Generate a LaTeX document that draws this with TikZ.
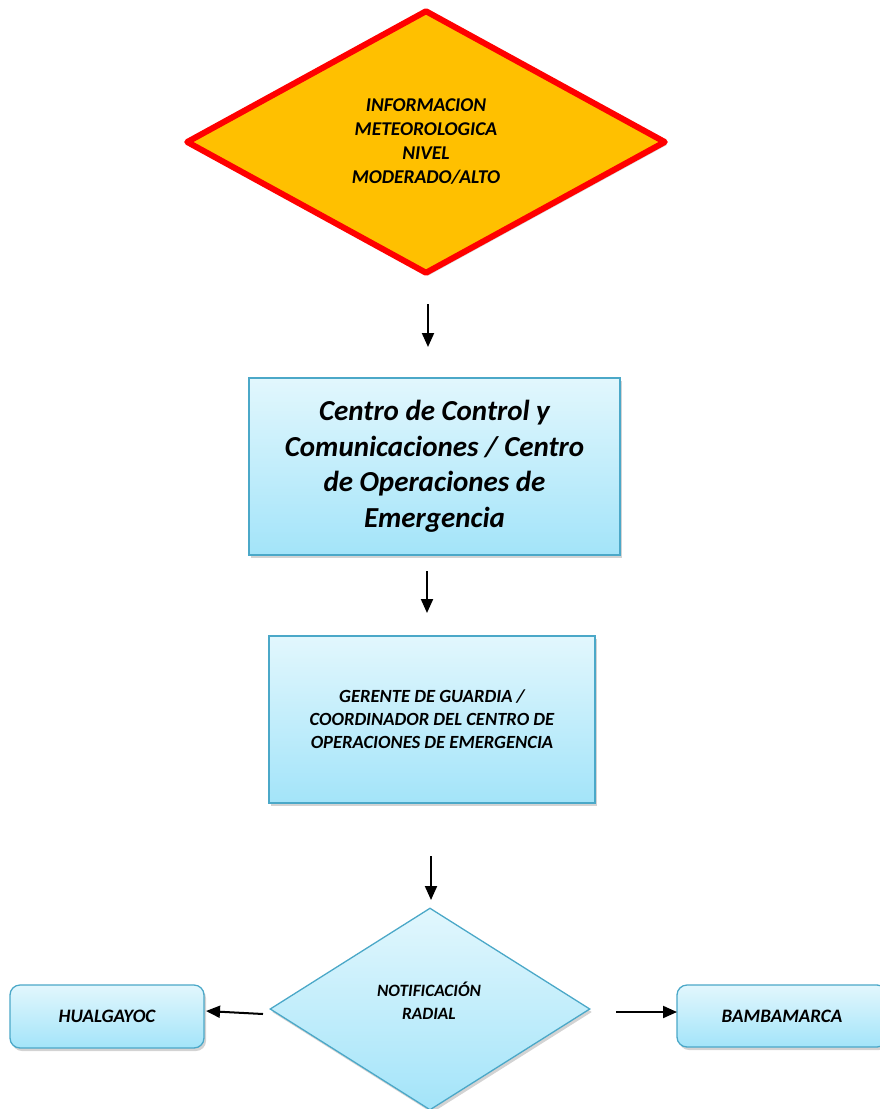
\documentclass[tikz,border=0pt]{standalone}
\usepackage{fontspec}
\setmainfont{Carlito}
\usetikzlibrary{shapes.geometric,arrows.meta,shadows}
\definecolor{orangefill}{HTML}{FFC000}
\definecolor{redline}{HTML}{FF0000}
\definecolor{bluetop}{HTML}{E2F7FD}
\definecolor{bluebot}{HTML}{A3E4F9}
\definecolor{blueline}{HTML}{4BA8C8}
\tikzset{
  bluebox/.style={draw=blueline, line width=1.3pt, top color=bluetop, bottom color=bluebot,
    drop shadow={opacity=0.35, shadow xshift=2pt, shadow yshift=-3pt},
    align=center, inner sep=0pt, font=\bfseries\itshape},
  arr/.style={line width=2pt, -{Triangle[length=14pt,width=12pt]}},
}
\begin{document}
\begin{tikzpicture}[x=1pt,y=-1pt]
\useasboundingbox (0,0) rectangle (880,1109);
% top diamond
\node[diamond, draw=redline, line width=6pt, fill=orangefill, line join=round,
  minimum width=480pt, minimum height=264pt, inner sep=0pt,
  drop shadow={opacity=0.3, shadow xshift=2pt, shadow yshift=-3pt},
  align=center, font=\fontsize{19.5}{24}\selectfont\bfseries\itshape]
  (d1) at (426,142) {INFORMACION\\METEOROLOGICA\\NIVEL\\MODERADO/ALTO};
% box 1
\node[bluebox, minimum width=371pt, minimum height=177pt, font=\fontsize{29}{35.5}\selectfont\bfseries\itshape]
  (b1) at (434.5,466.5) {Centro de Control y\\Comunicaciones / Centro\\de Operaciones de\\Emergencia};
% box 2
\node[bluebox, minimum width=326pt, minimum height=167pt, font=\fontsize{18.6}{23}\selectfont\bfseries\itshape]
  (b2) at (432,719.5) {GERENTE DE GUARDIA /\\COORDINADOR DEL CENTRO DE\\OPERACIONES DE EMERGENCIA};
% bottom diamond
\node[diamond, bluebox, minimum width=320pt, minimum height=202pt]
  (d2) at (430,1009) {};
\node[font=\fontsize{17.3}{23}\selectfont\bfseries\itshape, align=center, inner sep=0pt]
  (t2) at (429,1001) {NOTIFICACIÓN\\RADIAL};
% side boxes
\node[bluebox, rounded corners=10pt, minimum width=194pt, minimum height=63pt, font=\fontsize{19}{20}\selectfont\bfseries\itshape]
  (hu) at (107,1016.5) {HUALGAYOC};
\node[bluebox, rounded corners=10pt, minimum width=210pt, minimum height=62pt, font=\fontsize{19}{20}\selectfont\bfseries\itshape]
  (ba) at (782,1016) {BAMBAMARCA};
% arrows
\coordinate (a1s) at (428,304);
\coordinate (a1e) at (428,347);
\coordinate (a2s) at (427,571);
\coordinate (a2e) at (427,613);
\coordinate (a3s) at (431,856);
\coordinate (a3e) at (431,900);
\coordinate (a4s) at (263,1014);
\coordinate (a4e) at (206,1011);
\coordinate (a5s) at (616,1012);
\coordinate (a5e) at (677,1012);
\draw[arr] (a1s) -- (a1e);
\draw[arr] (a2s) -- (a2e);
\draw[arr] (a3s) -- (a3e);
\draw[arr] (a4s) -- (a4e);
\draw[arr] (a5s) -- (a5e);
\end{tikzpicture}
\end{document}
